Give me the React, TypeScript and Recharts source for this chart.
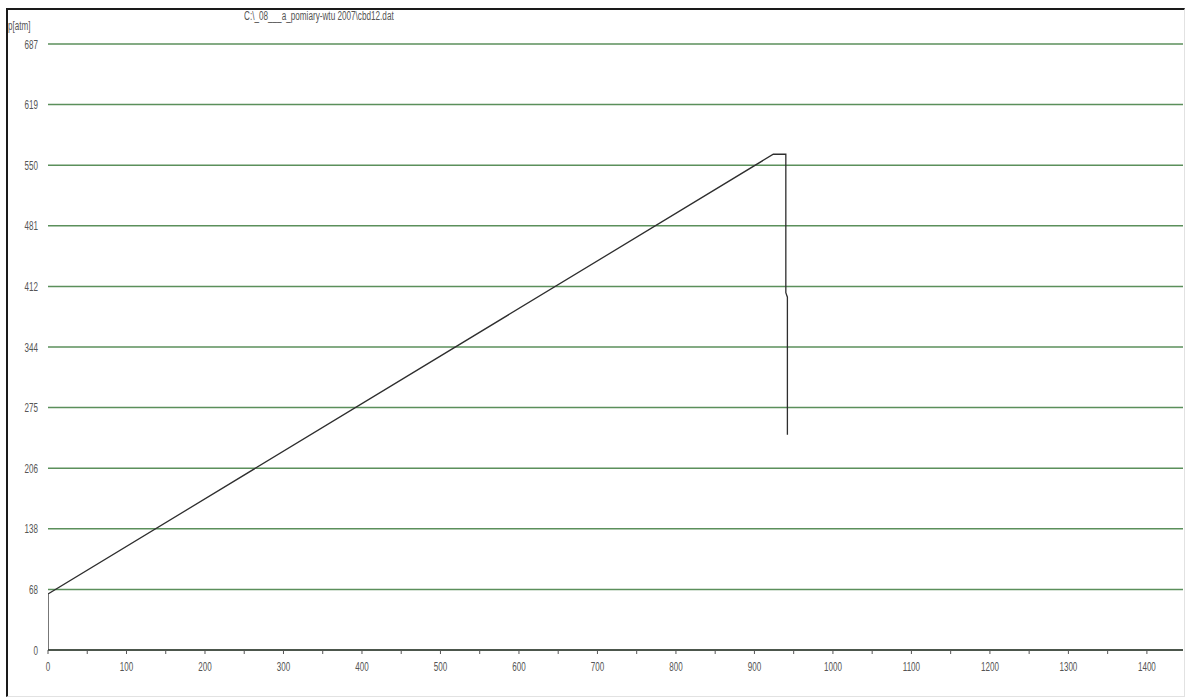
import { CartesianGrid, Line, LineChart, XAxis, YAxis } from "recharts";

// pressure record (time units vs p[atm])
const czas = [0, 0, 924, 940, 940, 942, 942];
const cisnienie = [0, 63.5, 562, 562, 405, 400, 244];

const xTicks = [0, 50, 100, 150, 200, 250, 300, 350, 400, 450, 500, 550, 600, 650, 700, 750, 800, 850, 900, 950, 1000, 1050, 1100, 1150, 1200, 1250, 1300, 1350, 1400];
const xTickLabels = ["0", "", "100", "", "200", "", "300", "", "400", "", "500", "", "600", "", "700", "", "800", "", "900", "", "1000", "", "1100", "", "1200", "", "1300", "", "1400"];

const yTicks = [0, 68.7, 137.4, 206.1, 274.8, 343.5, 412.2, 480.9, 549.6, 618.3, 687];
const yTickLabels = ["0", "68", "138", "206", "275", "344", "412", "481", "550", "619", "687"];

const tytul = "C:\\_08___a_pomiary-wtu 2007\\cbd12.dat";
const jednostka = "p[atm]";

const FONT = "'Liberation Sans', Arial, sans-serif";
const SCALE = 0.62;

// narrow, squeezed labels like the old plotting program
function TickX(props: any) {
  const { x, y, index } = props;
  return (
    <text transform={`translate(${x},${y + 17}) scale(${SCALE},1)`} textAnchor="middle" fill="#555" fontSize={13} fontFamily={FONT}>
      {xTickLabels[index]}
    </text>
  );
}

function TickY(props: any) {
  const { x, y, index } = props;
  return (
    <text transform={`translate(${x},${y + 4.5}) scale(${SCALE},1)`} textAnchor="end" fill="#555" fontSize={13} fontFamily={FONT}>
      {yTickLabels[index]}
    </text>
  );
}

export default function App() {
  const data = czas.map((x, i) => ({ x, p: cisnienie[i] }));
  return (
    <div style={{ position: "absolute", left: 0, top: 0, width: 1186, height: 698, background: "#fff", fontFamily: FONT }}>
      <div
        style={{
          position: "absolute",
          left: 6,
          top: 8,
          width: 1176,
          height: 686,
          borderTop: "2px solid #1a1a1a",
          borderLeft: "2px solid #1a1a1a",
          borderRight: "1px solid #e2e2e2",
          borderBottom: "1px solid #e2e2e2",
        }}
      />
      <div style={{ position: "absolute", left: 8, top: 19, fontSize: 13, color: "#555", lineHeight: "14px", transform: `scaleX(${SCALE})`, transformOrigin: "left top", whiteSpace: "nowrap" }}>
        {jednostka}
      </div>
      <div style={{ position: "absolute", left: 244, top: 10, fontSize: 12, color: "#555", lineHeight: "13px", transform: "scaleX(0.68)", transformOrigin: "left top", whiteSpace: "nowrap" }}>
        {tytul}
      </div>
      <div style={{ position: "absolute", left: 0, top: 0 }}>
        <LineChart width={1186} height={698} data={data} margin={{ top: 44, right: 3, bottom: 18, left: 8 }}>
          <CartesianGrid vertical={false} stroke="#5b8f5b" strokeWidth={1.5} />
          <XAxis
            dataKey="x"
            type="number"
            domain={[0, 1446]}
            ticks={xTicks}
            height={30}
            tickSize={4}
            tickMargin={0}
            axisLine={{ stroke: "#3a3a3a", strokeWidth: 1.5 }}
            tickLine={{ stroke: "#555" }}
            tick={<TickX />}
            allowDataOverflow
          />
          <YAxis
            type="number"
            domain={[0, 687]}
            ticks={yTicks}
            width={40}
            axisLine={false}
            tickLine={false}
            tickMargin={4}
            tick={<TickY />}
            allowDataOverflow
          />
          <Line type="linear" dataKey="p" stroke="#2e2e2e" strokeWidth={1.3} dot={false} isAnimationActive={false} />
        </LineChart>
      </div>
    </div>
  );
}
